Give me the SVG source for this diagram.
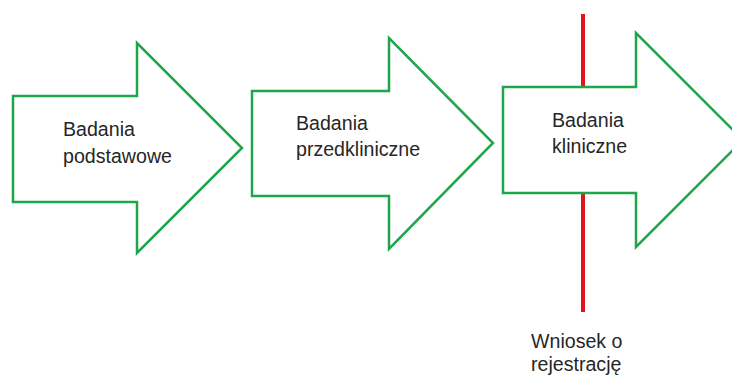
<svg xmlns="http://www.w3.org/2000/svg" width="732" height="381" viewBox="0 0 732 381">
<style>
.arrow{fill:#fff;stroke:#1fa64a;stroke-width:2.5;stroke-linejoin:miter}
.t{font-family:"Liberation Sans",Arial,sans-serif;font-size:19.6px;fill:#262626}
.red{stroke:#e0141c;stroke-width:4}
</style>
<rect width="732" height="381" fill="#fff"/>
<g id="connectors">
<line class="red" x1="583" y1="14" x2="583" y2="312"/>
</g>
<g id="node1">
<polygon class="arrow" points="13,96 137,96 137,43 242,148 137,253 137,202 13,202"/>
<text class="t" x="63" y="136">Badania</text>
<text class="t" x="63" y="163">podstawowe</text>
</g>
<g id="node2">
<polygon class="arrow" points="252,91 389,91 389,38 493,143 389,249 389,196 252,196"/>
<text class="t" x="296" y="130">Badania</text>
<text class="t" x="296" y="156">przedkliniczne</text>
</g>
<g id="node3">
<polygon class="arrow" points="503,87 636,87 636,33 743,140 636,247 636,193 503,193"/>
<text class="t" x="552" y="127">Badania</text>
<text class="t" x="552" y="153">kliniczne</text>
</g>
<g id="label">
<text class="t" x="531" y="348">Wniosek o</text>
<text class="t" x="531" y="371">rejestrację</text>
</g>
</svg>
